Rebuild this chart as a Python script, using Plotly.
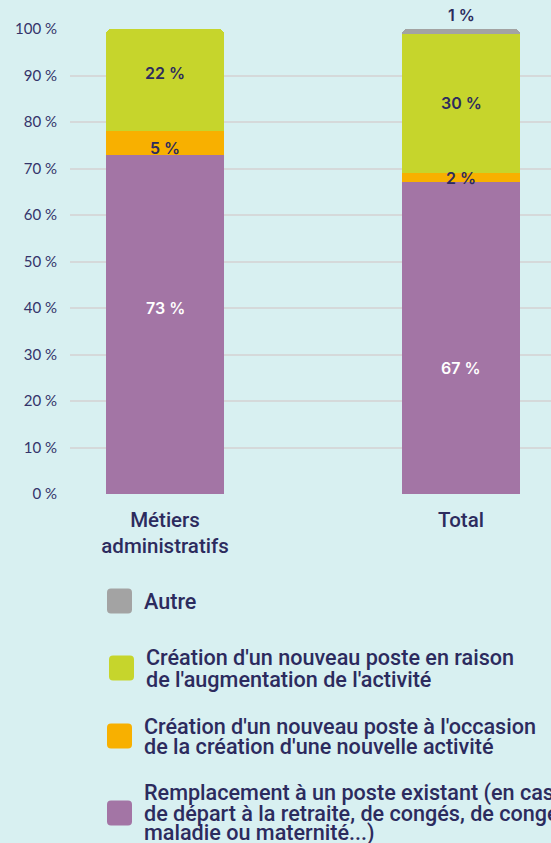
import plotly.graph_objects as go

# Répartition des motifs de recrutement (en %)
categories = ["Métiers<br>administratifs", "Total"]
series_names = [
    "Remplacement à un poste existant (en cas<br>de départ à la retraite, de congés, de congés<br>maladie ou maternité...)",
    "Création d'un nouveau poste à l'occasion<br>de la création d'une nouvelle activité",
    "Création d'un nouveau poste en raison<br>de l'augmentation de l'activité",
    "Autre",
]
remplacement = [73, 67]
creation_activite = [5, 2]
augmentation = [22, 30]
autre = [None, 1]
y_ticks = [0, 10, 20, 30, 40, 50, 60, 70, 80, 90, 100]

series_values = [remplacement, creation_activite, augmentation, autre]
colors = ["#a375a5", "#f8b000", "#c6d52c", "#a3a3a3"]
label_colors = ["white", "#2c2b5e", "#2c2b5e", "#2c2b5e"]
NAVY = "#2c2b5e"
BG = "#d8f0f1"

W, H = 551, 843
L, R, T, B = 70, 0, 29, 349
plot_w = W - L - R
plot_h = H - T - B

fig = go.Figure()
for name, vals, col in zip(series_names, series_values, colors):
    fig.add_trace(go.Bar(
        x=[0, 1], y=vals, name=name, marker=dict(color=col, line=dict(width=0)),
        width=0.4, showlegend=False, hoverinfo="skip",
    ))

# value labels, centred in each segment (tiny top segment goes above)
label_nudge = {(0, 0): 16, (1, 0): -30, (0, 1): -5, (0, 2): 7}
annotations = []
for ci in range(len(categories)):
    base = 0
    for si, vals in enumerate(series_values):
        v = vals[ci]
        if not v:
            continue
        if v < 2:
            annotations.append(dict(
                x=ci, y=base + v, xref="x", yref="y", text=f"{v} %",
                showarrow=False, yanchor="bottom", yshift=2,
                font=dict(family="Inter", size=16, color=NAVY, weight=600)))
        else:
            annotations.append(dict(
                x=ci, y=base + v / 2, xref="x", yref="y", text=f"{v} %",
                showarrow=False, yshift=label_nudge.get((ci, si), 0),
                font=dict(family="Inter", size=16, color=label_colors[si], weight=600)))
        base += v


def px(x):
    return (x - L) / plot_w


def py(y):
    return (H - B - y) / plot_h


# legend: rounded swatches with multi-line labels
legend_rows = [
    (3, 601, 107, 22),
    (2, 668, 109, 22),
    (1, 736, 107, 20),
    (0, 813, 107, 20),
]
shapes = []
for si, cy, sx, line_gap in legend_rows:
    size, r = 25, 4
    x0, x1 = sx, sx + size
    y0, y1 = cy - size / 2, cy + size / 2
    path = (
        f"M{px(x0 + r)},{py(y0)} L{px(x1 - r)},{py(y0)} "
        f"Q{px(x1)},{py(y0)} {px(x1)},{py(y0 + r)} L{px(x1)},{py(y1 - r)} "
        f"Q{px(x1)},{py(y1)} {px(x1 - r)},{py(y1)} L{px(x0 + r)},{py(y1)} "
        f"Q{px(x0)},{py(y1)} {px(x0)},{py(y1 - r)} L{px(x0)},{py(y0 + r)} "
        f"Q{px(x0)},{py(y0)} {px(x0 + r)},{py(y0)} Z"
    )
    shapes.append(dict(
        type="path", xref="paper", yref="paper", path=path,
        fillcolor=colors[si], line=dict(width=0), layer="above",
    ))
    lines = series_names[si].split("<br>")
    n = len(lines)
    for k, txt in enumerate(lines):
        ly = cy + (k - (n - 1) / 2) * line_gap
        annotations.append(dict(
            x=px(sx + size + 10), y=py(ly), xref="paper", yref="paper",
            text=txt, showarrow=False, xanchor="left", yanchor="middle",
            font=dict(family="Roboto", size=21.6, color=NAVY, weight=500),
        ))

fig.update_layout(
    width=W, height=H,
    margin=dict(l=L, r=R, t=T, b=B, pad=0),
    paper_bgcolor=BG, plot_bgcolor=BG,
    barmode="stack", barcornerradius=6,
    annotations=annotations, shapes=shapes,
    xaxis=dict(
        range=[-0.321, 1.304], tickvals=[0, 1], ticktext=categories,
        showgrid=False, zeroline=False, showline=False, ticks="",
        tickfont=dict(family="Roboto", size=20.5, color=NAVY, weight=500),
        ticklabelstandoff=11, fixedrange=True,
    ),
    yaxis=dict(
        range=[0, 100], tickvals=y_ticks, ticktext=[f"{v} %" for v in y_ticks],
        showgrid=True, gridcolor="#d5d9da", gridwidth=2,
        zeroline=False, showline=False, ticks="",
        tickfont=dict(family="Lato", size=15, color="#34346a"),
        ticklabelstandoff=12, fixedrange=True,
    ),
)

fig.write_html("out.html")
